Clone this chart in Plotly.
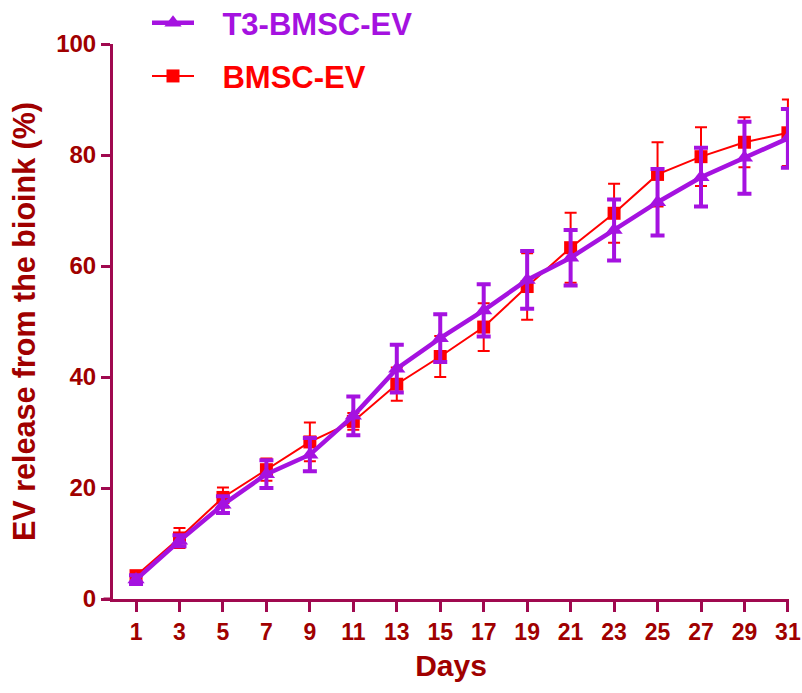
import plotly.graph_objects as go

days = [1, 3, 5, 7, 9, 11, 13, 15, 17, 19, 21, 23, 25, 27, 29, 31]

t3_mean = [3.5, 10.5, 17.0, 22.5, 26.0, 33.0, 41.5, 47.0, 52.0, 57.5, 61.5, 66.5, 71.5, 76.0, 79.5, 83.0]
t3_err = [0.8, 1.0, 1.5, 2.5, 3.0, 3.5, 4.3, 4.3, 4.7, 5.2, 5.0, 5.5, 6.0, 5.3, 6.5, 5.3]

bm_mean = [4.2, 11.0, 18.3, 23.3, 28.3, 32.0, 38.7, 43.7, 49.0, 56.3, 63.3, 69.5, 76.5, 79.7, 82.3, 84.0]
bm_err = [0.6, 1.8, 1.8, 2.0, 3.5, 1.5, 3.0, 3.7, 4.3, 6.0, 6.3, 5.3, 5.8, 5.3, 4.5, 6.0]

x_ticks = [1, 3, 5, 7, 9, 11, 13, 15, 17, 19, 21, 23, 25, 27, 29, 31]
y_ticks = [0, 20, 40, 60, 80, 100]

PURPLE = "#A512E0"
RED = "#FF0000"
AXIS = "#A0094F"
LABEL = "#A00000"
FONT = "Arial, Liberation Sans, sans-serif"

W, H = 802, 693
L, R, T, B = 113, 13, 44, 94
GAP = "&nbsp;&nbsp;&#8201;"

fig = go.Figure()

fig.add_trace(go.Scatter(
    x=days, y=bm_mean, mode="lines+markers",
    name=GAP + "<span style='color:#FF0000'>BMSC-EV</span>",
    line=dict(color=RED, width=2),
    marker=dict(symbol="square", size=13, color=RED),
    error_y=dict(type="data", array=bm_err, color=RED, thickness=2, width=6),
    legendgroup="b", legendrank=2,
))

fig.add_trace(go.Scatter(
    x=days, y=t3_mean, mode="lines+markers",
    name=GAP + "<span style='color:#A512E0'>T3-BMSC-EV</span>",
    line=dict(color=PURPLE, width=4.5),
    marker=dict(symbol="triangle-up", size=15, color=PURPLE),
    error_y=dict(type="data", array=t3_err, color=PURPLE, thickness=4, width=7),
    legendgroup="a", legendrank=1,
))

fig.add_shape(type="line", xref="paper", yref="paper", x0=-0.014, x1=0.0, y0=0, y1=0,
              line=dict(color=AXIS, width=3), layer="above")

plot_h = H - T - B
fig.update_layout(
    width=W, height=H,
    margin=dict(l=L, r=R, t=T, b=B, autoexpand=False),
    paper_bgcolor="white", plot_bgcolor="white",
    font=dict(family=FONT, color=LABEL),
    showlegend=True,
    legend=dict(
        x=(147 - L) / (W - L - R), y=1 + (T + 4) / plot_h, xref="paper", yref="paper",
        xanchor="left", yanchor="top",
        font=dict(size=31, family=FONT, weight="bold"),
        tracegroupgap=10, bgcolor="rgba(0,0,0,0)", itemwidth=42,
    ),
    xaxis=dict(
        range=[-0.06, 31.05],
        tickmode="array", tickvals=x_ticks, ticktext=[str(v) for v in x_ticks],
        showline=True, linecolor=AXIS, linewidth=3,
        ticks="outside", ticklen=10, tickwidth=3, tickcolor=AXIS,
        showgrid=False, zeroline=False,
        tickfont=dict(size=23, family=FONT, color=LABEL, weight="bold"),
        title=dict(text="Days", font=dict(size=30, family=FONT, color=LABEL, weight="bold"), standoff=12),
    ),
    yaxis=dict(
        range=[0, 100],
        tickmode="array", tickvals=y_ticks,
        showline=True, linecolor=AXIS, linewidth=3,
        ticks="outside", ticklen=9, tickwidth=3, tickcolor=AXIS,
        showgrid=False, zeroline=False,
        tickfont=dict(size=24, family=FONT, color=LABEL, weight="bold"),
        title=dict(text="EV release from the bioink (%)", font=dict(size=30.5, family=FONT, color=LABEL, weight="bold"), standoff=12),
    ),
)

fig.write_html("out.html", config={"displayModeBar": False},
               post_script="document.body.style.margin='0';document.body.style.overflow='hidden';")
